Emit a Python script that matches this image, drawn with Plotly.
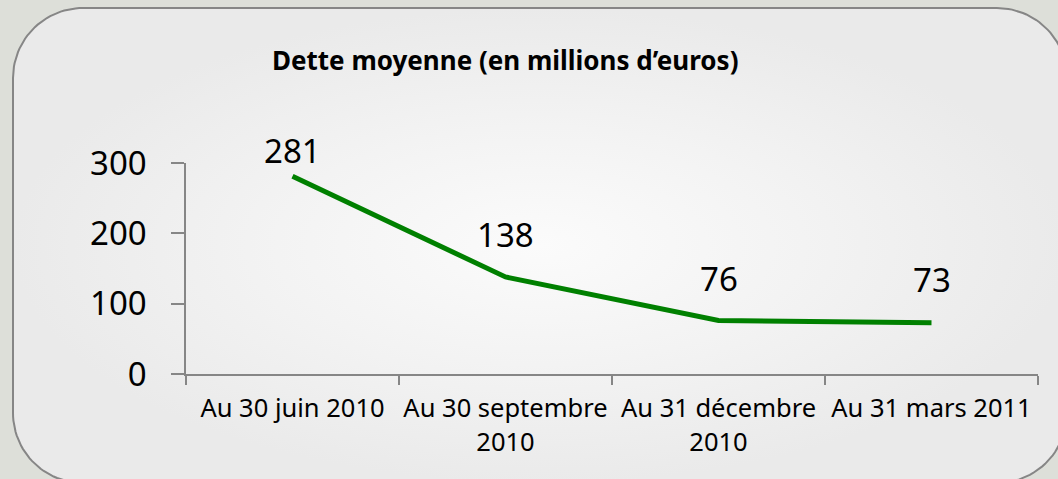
import numpy as np
import plotly.graph_objects as go

# ---- data ----
categories = ["Au 30 juin 2010", "Au 30 septembre<br>2010", "Au 31 décembre<br>2010", "Au 31 mars 2011"]
values = [281, 138, 76, 73]
value_labels = ["281", "138", "76", "73"]
y_ticks = [0, 100, 200, 300]
title_text = "<b>Dette moyenne (en millions d’euros)</b>"

# ---- style ----
label_shift = [1, 18, 18, 19]   # pixel offset of each value label above its point

W, H = 1058, 479
# plot area in pixels
PL, PR, PT, PB = 186, 1038, 163, 374

FONT = "Noto Sans"

# rounded-rectangle background (decoration)
def rounded_rect(x0, y0, x1, y1, r, n=30):
    xs, ys = [], []
    corners = [
        (x1 - r, y0 + r, -np.pi / 2, 0),
        (x1 - r, y1 - r, 0, np.pi / 2),
        (x0 + r, y1 - r, np.pi / 2, np.pi),
        (x0 + r, y0 + r, np.pi, 1.5 * np.pi),
    ]
    for cx, cy, a0, a1 in corners:
        t = np.linspace(a0, a1, n)
        xs.extend(cx + r * np.cos(t))
        ys.extend(cy + r * np.sin(t))
    xs.append(xs[0]); ys.append(ys[0])
    return xs, ys

bx, by = rounded_rect(13, 8, 1067, 483, 70)

fig = go.Figure()
fig.add_trace(go.Scatter(
    x=bx, y=by, xaxis="x", yaxis="y", mode="lines", fill="toself",
    line=dict(color="#868686", width=2),
    fillgradient=dict(type="radial",
                      colorscale=[[0, "#fbfbfb"], [0.5, "#f3f3f3"], [1, "#eaeaea"]]),
    hoverinfo="skip", showlegend=False,
))

fig.add_trace(go.Scatter(
    x=categories, y=values, xaxis="x2", yaxis="y2",
    mode="lines",
    line=dict(color="#008000", width=5),
    cliponaxis=False, showlegend=False,
))

annotations = [dict(
    text=title_text, xref="paper", yref="paper", x=504.5 / W, y=1 - 60 / H,
    xanchor="center", yanchor="middle", showarrow=False,
    font=dict(family=FONT, size=26, color="#000000"),
)]
for cat, val, lab, sh in zip(categories, values, value_labels, label_shift):
    annotations.append(dict(
        text=lab, xref="x2", yref="y2", x=cat, y=val,
        xanchor="center", yanchor="bottom", yshift=sh, showarrow=False,
        font=dict(family=FONT, size=33, color="#000000"),
    ))

fig.update_layout(
    width=W, height=H,
    margin=dict(l=0, r=0, t=0, b=0, pad=0),
    paper_bgcolor="#dddfd9",
    plot_bgcolor="rgba(0,0,0,0)",
    font=dict(family=FONT, color="#000000"),
    xaxis=dict(domain=[0, 1], range=[0, W], visible=False, fixedrange=True, automargin=False),
    yaxis=dict(domain=[0, 1], range=[H, 0], visible=False, fixedrange=True, automargin=False),
    xaxis2=dict(
        domain=[PL / W, PR / W], anchor="y2", type="category", automargin=False,
        range=[-0.5, len(categories) - 0.5], tickangle=0,
        tickson="boundaries", ticks="outside", ticklen=9, tickcolor="#868686", tickwidth=1.5,
        showline=True, linecolor="#868686", linewidth=1.5, showgrid=False,
        tickfont=dict(family=FONT, size=25.5, color="#000000"),
        ticklabelstandoff=11,
    ),
    yaxis2=dict(
        domain=[(H - PB) / H, (H - PT) / H], anchor="x2", automargin=False,
        range=[0, 300], tickvals=y_ticks,
        ticks="outside", ticklen=13, tickcolor="#868686", tickwidth=1.5,
        showline=True, linecolor="#868686", linewidth=1.5, showgrid=False, zeroline=False,
        tickfont=dict(family=FONT, size=33, color="#000000"),
        ticklabelstandoff=18,
    ),
    annotations=annotations,
)

fig.write_html("out.html", config={"displayModeBar": False},
               post_script="document.body.style.margin='0';")
